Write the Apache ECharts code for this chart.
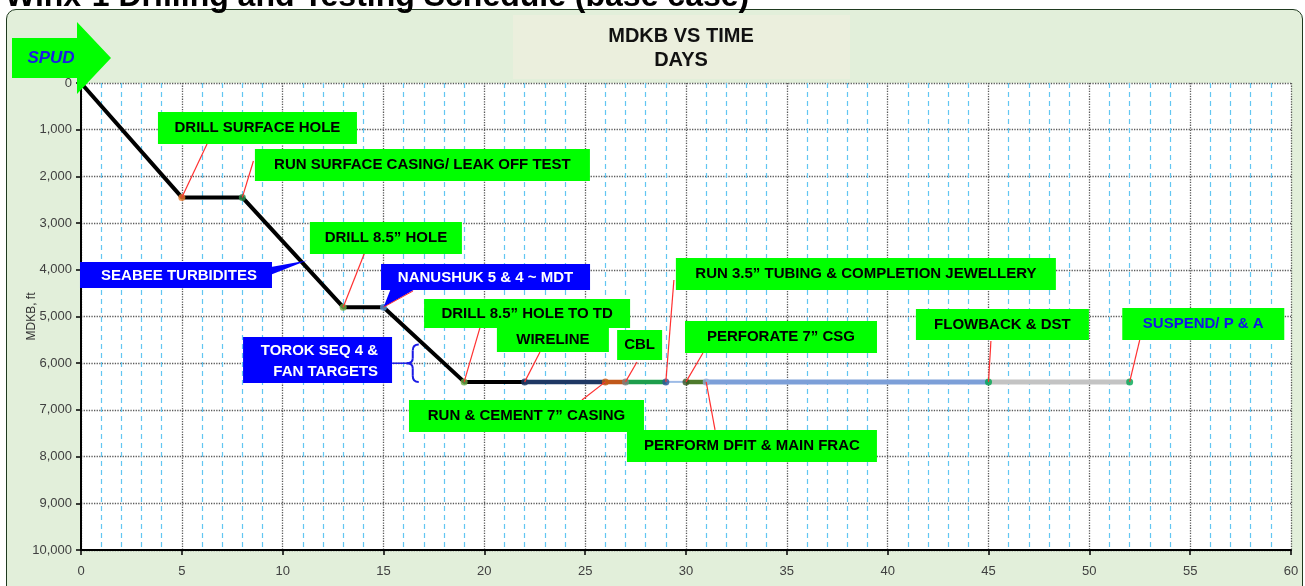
<!DOCTYPE html>
<html><head><meta charset="utf-8">
<script src="https://cdn.jsdelivr.net/npm/echarts@6/dist/echarts.min.js"></script>
<style>
html,body{margin:0;padding:0;background:#fff;overflow:hidden;width:1305px;height:586px}
#bg{position:absolute;left:6px;top:9px;width:1297px;height:620px;background:#e2efda;border:1.5px solid #1f3a1f;border-radius:10px;box-sizing:border-box}
#c{position:absolute;left:0;top:0;width:1305px;height:586px}
</style></head>
<body><div id="bg"></div><div id="c"></div>
<script>
// ---------- data ----------
const pointDays   = [0, 5, 8, 13, 15, 19, 22, 26, 27, 29, 30, 31, 45, 52];
const pointDepths = [0, 2450, 2450, 4800, 4800, 6400, 6400, 6400, 6400, 6400, 6400, 6400, 6400, 6400];
const activityLabels = [
  'DRILL SURFACE HOLE', 'RUN SURFACE CASING/ LEAK OFF TEST', 'DRILL 8.5\u201D HOLE',
  'DRILL 8.5\u201D HOLE TO TD', 'WIRELINE', 'RUN & CEMENT 7\u201D CASING', 'CBL',
  'RUN 3.5\u201D TUBING & COMPLETION JEWELLERY', 'PERFORATE 7\u201D CSG',
  'PERFORM DFIT & MAIN FRAC', 'FLOWBACK & DST', 'SUSPEND/ P & A'
];
const activityPoint = [1, 2, 3, 5, 6, 7, 8, 9, 10, 11, 12, 13];
const formationLabels = ['SEABEE TURBIDITES', 'NANUSHUK 5 & 4 ~ MDT', 'TOROK SEQ 4 &\nFAN TARGETS'];
const torokDepthRange = [5600, 6400];
const xAxisTicks = [0, 5, 10, 15, 20, 25, 30, 35, 40, 45, 50, 55, 60];
const yAxisTicks = [0, 1000, 2000, 3000, 4000, 5000, 6000, 7000, 8000, 9000, 10000];

// ---------- styles / layout ----------
const segColors = ['#000','#000','#000','#000','#000','#000','#1f3864','#c0581a','#1e9e4c','#9dbbe6','#4e7a2c','#7c9fd8','#c3c3c3'];
const segWidths = [4,4,4,4,4,4,4.5,4.5,4.5,2,4.5,5,5];
const markerColors = ['#000','#ed7d31','#2d8f4e','#70ad47','#5b9bd5','#70ad47','#1f3864','#c55a11','#7f7f7f','#2f5597','#375623','#8faadc','#00a650','#00a650'];
// box centre (day, depth), size px, leader end (day, depth)
const noteLayout = [
  {c:[8.75, 963],  w:199, h:32, e:[6.25, 1306]},
  {c:[16.93,1756], w:335, h:32, e:[8.55, 1670]},
  {c:[15.12,3319], w:152, h:32, e:[14.08,3618]},
  {c:[22.12,4935], w:206, h:29, e:[19.78,5245]},
  {c:[23.4, 5502], w:112, h:24, e:[22.76,5759]},
  {c:[22.09,7130], w:235, h:32, e:[24.84,6787]},
  {c:[27.7, 5610], w:45,  h:30, e:[27.57,5973]},
  {c:[38.92,4089], w:380, h:32, e:[29.4, 4218]},
  {c:[34.71,5438], w:192, h:32, e:[30.84,5781]},
  {c:[33.27,7772], w:250, h:32, e:[31.44,7429]},
  {c:[45.69,5171], w:173, h:31, e:[45.12,5524]},
  {c:[55.65,5160], w:162, h:32, e:[52.5, 5502]}
];
const noteTextColor = ['#000','#000','#000','#000','#000','#000','#000','#000','#000','#000','#000','#1414e6'];

const chart = echarts.init(document.getElementById('c'), null, {renderer:'canvas'});

const series = [];
// black drilling line (points 0..6)
series.push({type:'line', data: pointDays.slice(0,7).map((d,i)=>[d, pointDepths[i]]), symbol:'none',
  lineStyle:{color:'#000', width:4, join:'round'}, z:3, animation:false});
for (let i = 6; i < pointDays.length - 1; i++) {
  series.push({type:'line', data:[[pointDays[i],pointDepths[i]],[pointDays[i+1],pointDepths[i+1]]],
    symbol:'none', lineStyle:{color:segColors[i], width:segWidths[i]}, z:3, animation:false});
}
series.push({type:'scatter', symbolSize:7, z:5, animation:false,
  data: pointDays.map((d,i)=>({value:[d,pointDepths[i]], itemStyle:{color:markerColors[i]}})).slice(1)});

const axisFont = {fontFamily:'Liberation Sans, Arial, sans-serif', fontSize:13, color:'#404040'};

chart.setOption({
  animation:false,
  backgroundColor:'transparent',
  grid:{left:81, right:14, top:83, bottom:36, show:true, backgroundColor:'#ffffff', borderWidth:0},
  xAxis:{type:'value', min:xAxisTicks[0], max:xAxisTicks[xAxisTicks.length-1], interval:xAxisTicks[1]-xAxisTicks[0],
    axisLine:{onZero:false, lineStyle:{color:'#000', width:2}},
    axisTick:{show:true, length:5, inside:false, lineStyle:{color:'#000', width:1.5}},
    axisLabel:Object.assign({margin:15}, axisFont),
    splitLine:{show:true, lineStyle:{color:'#5a5a5a', type:'dotted', width:1.3}},
    minorTick:{show:false, splitNumber:5},
    minorSplitLine:{show:true, lineStyle:{color:'#62c6f2', type:[5,4], width:1.2}}
  },
  yAxis:{type:'value', inverse:true, min:yAxisTicks[0], max:yAxisTicks[yAxisTicks.length-1], interval:yAxisTicks[1]-yAxisTicks[0],
    name:'MDKB, ft', nameLocation:'middle', nameGap:43, nameRotate:90, nameMoveOverlap:false,
    nameTextStyle:{fontFamily:'Liberation Sans, Arial, sans-serif', fontSize:12, color:'#333'},
    axisLine:{lineStyle:{color:'#000', width:2}},
    axisTick:{show:true, length:5, lineStyle:{color:'#000', width:1.5}},
    axisLabel:Object.assign({margin:9, formatter:v=>v.toLocaleString('en-US')}, axisFont),
    splitLine:{show:true, lineStyle:{color:'#5a5a5a', type:'dotted', width:1.3}}
  },
  series: series
});

const px = (d, z) => chart.convertToPixel({gridIndex:0}, [d, z]);
const boxFont = 'bold 15px "Liberation Sans", Arial, sans-serif';
const g = [];
// page title (partly cut off at top)
g.push({type:'text', x:5, y:-3, z:50, style:{text:'Winx-1 Drilling and Testing Schedule (base case)', font:'bold 32px "Liberation Sans", Arial, sans-serif', fill:'#000', align:'left', verticalAlign:'middle'}});
// chart title box
g.push({type:'rect', shape:{x:513, y:15, width:337, height:64}, style:{fill:'#ebefdd'}, z:1});
g.push({type:'text', x:681, y:36, z:2, style:{text:'MDKB VS TIME', font:'bold 20px "Liberation Sans", Arial, sans-serif', fill:'#111', align:'center', verticalAlign:'middle'}});
g.push({type:'text', x:681, y:60, z:2, style:{text:'DAYS', font:'bold 20px "Liberation Sans", Arial, sans-serif', fill:'#111', align:'center', verticalAlign:'middle'}});
// SPUD arrow
g.push({type:'polygon', shape:{points:[[12,38],[77,38],[77,22],[111,58],[77,94],[77,78],[12,78]]}, style:{fill:'#00ff00'}, z:40});
g.push({type:'text', x:51, y:58, z:41, style:{text:'SPUD', font:'italic bold 17px "Liberation Sans", Arial, sans-serif', fill:'#1a1ae6', align:'center', verticalAlign:'middle'}});

// activity call-outs
activityLabels.forEach((t, i) => {
  const L = noteLayout[i];
  const p = activityPoint[i];
  const a = px(pointDays[p], pointDepths[p]);
  const e = px(L.e[0], L.e[1]);
  const c = px(L.c[0], L.c[1]);
  g.push({type:'line', shape:{x1:a[0], y1:a[1], x2:e[0], y2:e[1]}, style:{stroke:'#ff3030', lineWidth:1.2}, z:20});
  g.push({type:'rect', shape:{x:c[0]-L.w/2, y:c[1]-L.h/2, width:L.w, height:L.h}, style:{fill:'#00ff00'}, z:21});
  g.push({type:'text', x:c[0], y:c[1], z:22, style:{text:t, font:boxFont, fill:noteTextColor[i], align:'center', verticalAlign:'middle'}});
});

// formation call-outs
(function(){
  // SEABEE
  const c = px(4.71, 4111), tip = px(11.2, 3800);
  const w = 192, h = 26;
  g.push({type:'polygon', shape:{points:[[c[0]+w/2-12, c[1]-6],[tip[0],tip[1]],[c[0]+w/2-12, c[1]+4]]}, style:{fill:'#0000ff'}, z:21});
  g.push({type:'rect', shape:{x:c[0]-w/2, y:c[1]-h/2, width:w, height:h}, style:{fill:'#0000ff'}, z:21});
  g.push({type:'text', x:c[0]+3, y:c[1]+1, z:22, style:{text:formationLabels[0], font:boxFont, fill:'#fff', align:'center', verticalAlign:'middle'}});
  // NANUSHUK
  const c2 = px(20.06, 4154), a2 = px(pointDays[4], pointDepths[4]);
  const w2 = 209, h2 = 26;
  g.push({type:'polygon', shape:{points:[[c2[0]-w2/2+10, c2[1]+h2/2-2],[a2[0],a2[1]],[c2[0]-w2/2+36, c2[1]+h2/2-2]]}, style:{fill:'#0000ff'}, z:21});
  g.push({type:'line', shape:{x1:a2[0], y1:a2[1], x2:c2[0]-w2/2+32, y2:c2[1]+h2/2+1}, style:{stroke:'#ff3030', lineWidth:1}, z:21});
  g.push({type:'rect', shape:{x:c2[0]-w2/2, y:c2[1]-h2/2, width:w2, height:h2}, style:{fill:'#0000ff'}, z:21});
  g.push({type:'text', x:c2[0], y:c2[1]+1, z:22, style:{text:formationLabels[1], font:boxFont, fill:'#fff', align:'center', verticalAlign:'middle'}});
  // TOROK
  const c3 = px(11.73, 5931);
  const w3 = 149, h3 = 46;
  const bt = px(16.45, torokDepthRange[0]), bb = px(16.45, torokDepthRange[1]);
  const xm = bt[0], ym = (bt[1]+bb[1])/2, xr = xm + 6, xt = xm - 6;
  g.push({type:'rect', shape:{x:c3[0]-w3/2, y:c3[1]-h3/2, width:w3, height:h3}, style:{fill:'#0000ff'}, z:21});
  g.push({type:'text', x:c3[0]+w3/2-14, y:c3[1]+1, z:22, style:{text:formationLabels[2], font:'bold 15px "Liberation Sans", Arial, sans-serif', lineHeight:21, fill:'#fff', align:'right', verticalAlign:'middle'}});
  g.push({type:'line', shape:{x1:c3[0]+w3/2, y1:ym, x2:xt, y2:ym}, style:{stroke:'#1a1ae6', lineWidth:1.5}, z:21});
  const bs = {stroke:'#1a1ae6', lineWidth:2, fill:null};
  g.push({type:'bezierCurve', shape:{x1:xr, y1:bt[1], cpx1:xm, cpy1:bt[1], x2:xm, y2:bt[1]+6}, style:bs, z:21});
  g.push({type:'line', shape:{x1:xm, y1:bt[1]+6, x2:xm, y2:ym-5}, style:bs, z:21});
  g.push({type:'bezierCurve', shape:{x1:xm, y1:ym-5, cpx1:xm, cpy1:ym, x2:xt, y2:ym}, style:bs, z:21});
  g.push({type:'bezierCurve', shape:{x1:xt, y1:ym, cpx1:xm, cpy1:ym, x2:xm, y2:ym+5}, style:bs, z:21});
  g.push({type:'line', shape:{x1:xm, y1:ym+5, x2:xm, y2:bb[1]-6}, style:bs, z:21});
  g.push({type:'bezierCurve', shape:{x1:xm, y1:bb[1]-6, cpx1:xm, cpy1:bb[1], x2:xr, y2:bb[1]}, style:bs, z:21});
})();

chart.setOption({graphic: g});
</script>
</body></html>
